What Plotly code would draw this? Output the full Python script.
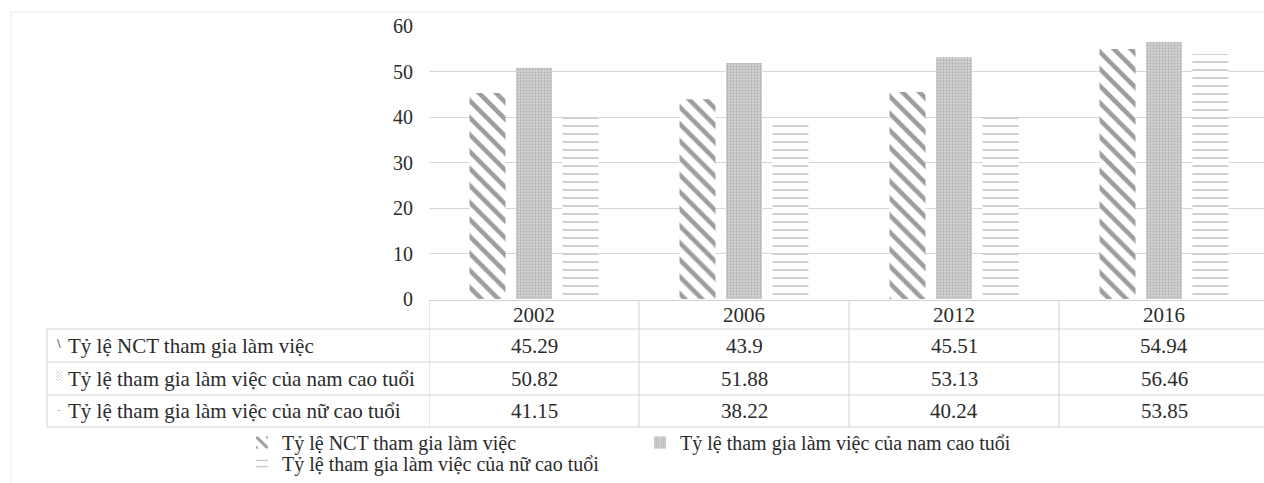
import plotly.graph_objects as go

years = ["2002", "2006", "2012", "2016"]
series_names = [
    "Tỷ lệ NCT tham gia làm việc",
    "Tỷ lệ tham gia làm việc của nam cao tuổi",
    "Tỷ lệ tham gia làm việc của nữ cao tuổi",
]
nct = [45.29, 43.9, 45.51, 54.94]
nam = [50.82, 51.88, 53.13, 56.46]
nu = [41.15, 38.22, 40.24, 53.85]
y_ticks = [0, 10, 20, 30, 40, 50, 60]

FONT = "Liberation Serif"
TXT = "#2b2b2b"
GRID = "#d6d6d6"
TBL = "#d2d2d2"

W, H = 1264, 483
L, T, B = 429, 26, 184
PH = H - T - B  # plot height in px
PW = W - L
CAT_PX = 210.0


def py(px):  # pixel y -> paper y
    return (H - B - px) / PH


def px_x(px):  # pixel x -> paper x
    return (px - L) / PW


fig = go.Figure()
patterns = [
    dict(shape="\\", fgcolor="#3c3c3c", bgcolor="white", size=12, solidity=0.38),
    dict(shape=".", fgcolor="#8f8f8f", bgcolor="#d6d6d6", size=3, solidity=0.45),
    dict(shape="-", fgcolor="#7c7c7c", bgcolor="white", size=8, solidity=0.18),
]
legend_ids = ["legend", "legend", "legend2"]
for name, vals, pat, lg in zip(series_names, [nct, nam, nu], patterns, legend_ids):
    fig.add_trace(go.Bar(
        x=years, y=vals, name=name, legend=lg,
        marker=dict(color="white", line=dict(width=0), pattern=pat),
    ))

xmax = -0.5 + PW / CAT_PX

shapes = []
ann = []
header_top, row_lines = 300.5, [329, 362, 395, 427]
row_centers = [345.5, 378.5, 411]
header_center = 314.5
table_left = 47

shapes.append(dict(type="line", xref="paper", yref="paper", x0=0, x1=1.01,
                   y0=py(header_top), y1=py(header_top), line=dict(color=TBL, width=1)))
for yl in row_lines:
    shapes.append(dict(type="line", xref="paper", yref="paper", x0=px_x(table_left), x1=1.01,
                       y0=py(yl), y1=py(yl), line=dict(color=TBL, width=1)))
shapes.append(dict(type="line", xref="paper", yref="paper", x0=px_x(table_left), x1=px_x(table_left),
                   y0=py(row_lines[0]), y1=py(row_lines[-1]), line=dict(color=TBL, width=1)))
for i in range(len(years)):
    shapes.append(dict(type="line", xref="x", yref="paper", x0=i - 0.5, x1=i - 0.5,
                       y0=py(header_top), y1=py(row_lines[-1]), line=dict(color=TBL, width=1)))
shapes.append(dict(type="line", xref="paper", yref="paper", x0=px_x(11), x1=1.01,
                   y0=py(12), y1=py(12), line=dict(color="#ebebeb", width=1)))
shapes.append(dict(type="line", xref="paper", yref="paper", x0=px_x(11), x1=px_x(11),
                   y0=py(12), y1=py(H + 5), line=dict(color="#ebebeb", width=1)))

TF = 21
for i, yr in enumerate(years):
    ann.append(dict(xref="x", yref="paper", x=i, y=py(header_center), text=yr,
                    xanchor="center", yanchor="middle",
                    showarrow=False, font=dict(family=FONT, size=TF, color=TXT)))
icons = [("\\", 11, "#555"), ("░", 9, "#bbb"), ("-", 11, "#bbb")]
for r, (name, vals) in enumerate(zip(series_names, [nct, nam, nu])):
    ann.append(dict(xref="paper", yref="paper", x=px_x(66), y=py(row_centers[r]), text=name,
                    xanchor="left", yanchor="middle",
                    showarrow=False, font=dict(family=FONT, size=TF, color=TXT)))
    ic, sz, col = icons[r]
    ann.append(dict(xref="paper", yref="paper", x=px_x(59), y=py(row_centers[r] - 2), text=ic,
                    xanchor="center", yanchor="middle",
                    showarrow=False, font=dict(family="DejaVu Sans", size=sz, color=col)))
    for i, v in enumerate(vals):
        ann.append(dict(xref="x", yref="paper", x=i, y=py(row_centers[r]), text=str(v),
                        xanchor="center", yanchor="middle",
                        showarrow=False, font=dict(family=FONT, size=TF, color=TXT)))

leg_common = dict(orientation="h", xanchor="left", yanchor="top",
                  entrywidth=353, entrywidthmode="pixels",
                  font=dict(family=FONT, size=20, color=TXT), bgcolor="rgba(0,0,0,0)")

fig.update_layout(
    width=W, height=H,
    margin=dict(l=L, r=0, t=T, b=B, autoexpand=False),
    paper_bgcolor="white", plot_bgcolor="white",
    barmode="group", bargap=0.336, bargroupgap=0.226,
    font=dict(family=FONT, color=TXT),
    xaxis=dict(type="category", range=[-0.5, xmax], showticklabels=False,
               showgrid=False, showline=False, zeroline=False, ticks=""),
    yaxis=dict(range=[0, 60], tickvals=y_ticks, showgrid=True, gridcolor=GRID, gridwidth=1,
               zeroline=False, showline=False, ticks="", ticklabelstandoff=15,
               tickfont=dict(family=FONT, size=20, color=TXT)),
    legend=dict(x=px_x(242), y=py(423), **leg_common),
    legend2=dict(x=px_x(242), y=py(444), **leg_common),
    shapes=shapes, annotations=ann,
)

fig.write_html("out.html", config={"displayModeBar": False},
               post_script="document.body.style.margin='0';document.body.style.overflow='hidden';")
